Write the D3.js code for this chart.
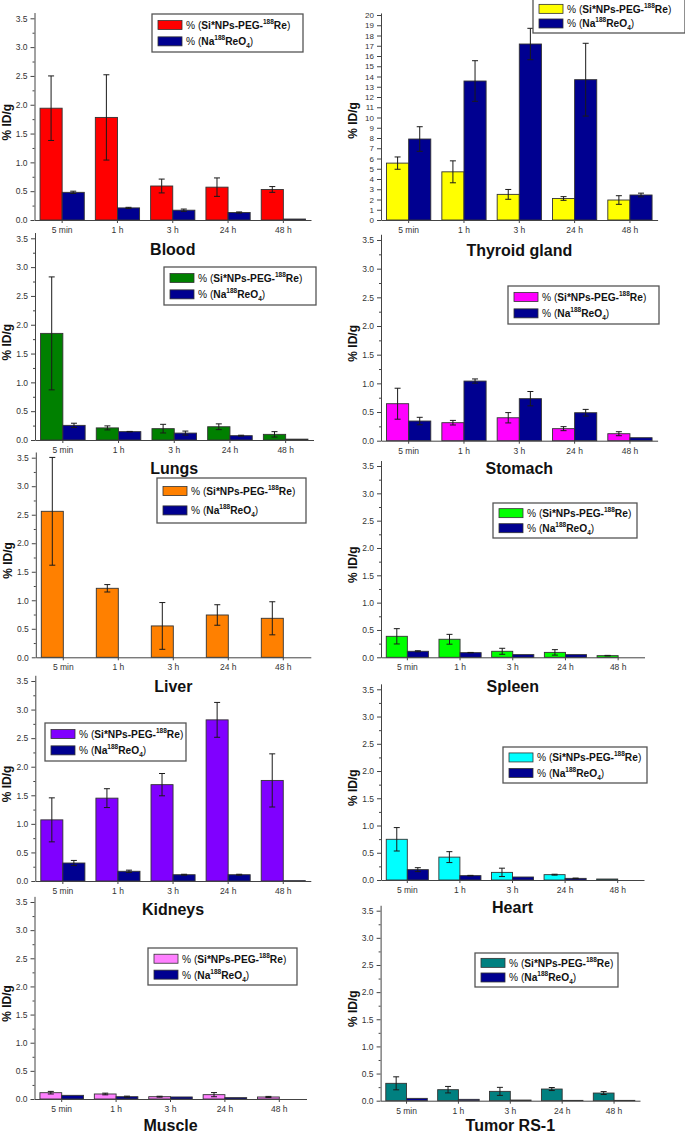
<!DOCTYPE html>
<html>
<head>
<meta charset="utf-8">
<script src="https://cdn.jsdelivr.net/npm/d3@7"></script>
<style>
  html, body { margin: 0; padding: 0; background: #fff; }
  svg { display: block; }
  text { font-family: "Liberation Sans", Arial, sans-serif; }
</style>
</head>
<body>
<svg id="chart" width="685" height="1134"></svg>
<script>
// ---------- DATA ----------
const categories = ["5 min", "1 h", "3 h", "24 h", "48 h"];
const organs = ["Blood", "Thyroid gland", "Lungs", "Stomach", "Liver", "Spleen", "Kidneys", "Heart", "Muscle", "Tumor RS-1"];
const npColors = ["#FF0000", "#FFFF00", "#008000", "#FF00FF", "#FF8000", "#00FF00", "#8000FF", "#00FFFF", "#FF80FF", "#008080"];
const naColor = "#000090";

const bloodNP = [1.94, 1.78, 0.59, 0.57, 0.53];
const bloodNPErr = [0.56, 0.74, 0.12, 0.16, 0.05];
const bloodNa = [0.48, 0.21, 0.17, 0.13, 0.017];
const bloodNaErr = [0.02, 0.01, 0.02, 0.01, 0];

const thyroidNP = [5.55, 4.7, 2.5, 2.1, 1.95];
const thyroidNPErr = [0.6, 1.07, 0.48, 0.18, 0.42];
const thyroidNa = [7.9, 13.56, 17.17, 13.69, 2.44];
const thyroidNaErr = [1.2, 1.98, 1.53, 3.55, 0.18];

const lungsNP = [1.85, 0.21, 0.197, 0.23, 0.098];
const lungsNPErr = [0.98, 0.035, 0.075, 0.05, 0.047];
const lungsNa = [0.254, 0.145, 0.12, 0.075, 0.015];
const lungsNaErr = [0.037, 0.004, 0.035, 0.008, 0];

const stomachNP = [0.645, 0.314, 0.40, 0.21, 0.122];
const stomachNPErr = [0.27, 0.04, 0.09, 0.035, 0.035];
const stomachNa = [0.343, 1.04, 0.733, 0.488, 0.052];
const stomachNaErr = [0.065, 0.037, 0.125, 0.058, 0];

const liverNP = [2.56, 1.21, 0.55, 0.742, 0.684];
const liverNPErr = [0.945, 0.065, 0.41, 0.18, 0.29];
const liverNa = [null, null, null, null, null];
const liverNaErr = [0, 0, 0, 0, 0];

const spleenNP = [0.384, 0.33, 0.11, 0.09, 0.03];
const spleenNPErr = [0.14, 0.09, 0.055, 0.05, 0.005];
const spleenNa = [0.11, 0.085, 0.049, 0.049, null];
const spleenNaErr = [0.01, 0.004, 0, 0, 0];

const kidneysNP = [1.07, 1.45, 1.686, 2.82, 1.76];
const kidneysNPErr = [0.385, 0.165, 0.195, 0.305, 0.465];
const kidneysNa = [0.315, 0.17, 0.11, 0.11, 0.006];
const kidneysNaErr = [0.045, 0.02, 0.008, 0.008, 0];

const heartNP = [0.747, 0.42, 0.14, 0.098, 0.018];
const heartNPErr = [0.215, 0.1, 0.077, 0.008, 0];
const heartNa = [0.19, 0.08, 0.055, 0.03, null];
const heartNaErr = [0.036, 0.005, 0, 0.005, 0];

const muscleNP = [0.112, 0.089, 0.041, 0.077, 0.036];
const muscleNPErr = [0.023, 0.015, 0.008, 0.037, 0.01];
const muscleNa = [0.065, 0.041, 0.036, 0.024, null];
const muscleNaErr = [0, 0.01, 0, 0, 0];

const tumorNP = [0.32, 0.203, 0.172, 0.215, 0.141];
const tumorNPErr = [0.12, 0.06, 0.074, 0.028, 0.027];
const tumorNa = [0.043, 0.025, 0.012, 0.006, 0.006];
const tumorNaErr = [0, 0, 0, 0, 0];

const yTicks35 = [0, 0.5, 1.0, 1.5, 2.0, 2.5, 3.0, 3.5];
const yMinor35 = [0.25, 0.75, 1.25, 1.75, 2.25, 2.75, 3.25];
const yTicks20 = d3.range(0, 21, 1);

const npSeries = [bloodNP, thyroidNP, lungsNP, stomachNP, liverNP, spleenNP, kidneysNP, heartNP, muscleNP, tumorNP];
const npErrSeries = [bloodNPErr, thyroidNPErr, lungsNPErr, stomachNPErr, liverNPErr, spleenNPErr, kidneysNPErr, heartNPErr, muscleNPErr, tumorNPErr];
const naSeries = [bloodNa, thyroidNa, lungsNa, stomachNa, liverNa, spleenNa, kidneysNa, heartNa, muscleNa, tumorNa];
const naErrSeries = [bloodNaErr, thyroidNaErr, lungsNaErr, stomachNaErr, liverNaErr, spleenNaErr, kidneysNaErr, heartNaErr, muscleNaErr, tumorNaErr];

// ---------- LAYOUT ----------
const layout = [
  {x0: 34.5, x1: 311,   yZero: 220,    yTop: 18.3,  max: 3.5, axisTop: 3.6,  legend: [152, 14, 151, 38], titleY: 255},
  {x0: 381,  x1: 657.6, yZero: 220,    yTop: 15,    max: 20,  axisTop: 20.2, legend: [533, -1, 152, 34], titleY: 256},
  {x0: 35,   x1: 313.5, yZero: 440,    yTop: 238.3, max: 3.5, axisTop: 3.6,  legend: [164, 267, 152, 38], titleY: 474},
  {x0: 381,  x1: 657.6, yZero: 440.7,  yTop: 240,   max: 3.5, axisTop: 3.6,  legend: [508, 286, 151, 38], titleY: 474},
  {x0: 35.8, x1: 310.8, yZero: 657.3,  yTop: 457.7, max: 3.5, axisTop: 3.6,  legend: [157, 478, 149, 45], titleY: 692},
  {x0: 381,  x1: 644.5, yZero: 657.3,  yTop: 466,   max: 3.5, axisTop: 3.6,  legend: [493, 503, 144, 35], titleY: 692},
  {x0: 35.3, x1: 310.8, yZero: 881,    yTop: 681,   max: 3.5, axisTop: 3.6,  legend: [45, 723, 141, 38], titleY: 915},
  {x0: 381,  x1: 644,   yZero: 880,    yTop: 689.3, max: 3.5, axisTop: 3.6,  legend: [503, 747, 144, 36], titleY: 913},
  {x0: 34.5, x1: 306.5, yZero: 1099,   yTop: 902,   max: 3.5, axisTop: 3.6,  legend: [148, 948, 149, 37], titleY: 1131},
  {x0: 380.6,x1: 640,   yZero: 1100.7, yTop: 910.7, max: 3.5, axisTop: 3.6,  legend: [475, 953, 143, 34], titleY: 1131}
];

const svg = d3.select("#chart");

layout.forEach((p, i) => {
  const g = svg.append("g");
  const k = (p.yZero - p.yTop) / p.max;
  const y = d3.scaleLinear().domain([0, p.axisTop]).range([p.yZero, p.yZero - k * p.axisTop]);
  const x = d3.scaleBand().domain(categories).range([p.x0, p.x1]).paddingInner(0.2).paddingOuter(0.1);
  const xs = d3.scaleBand().domain(["np", "na"]).range([0, x.bandwidth()]);

  const np = npSeries[i], npE = npErrSeries[i], na = naSeries[i], naE = naErrSeries[i];
  const rows = categories.map((c, j) => ({c, np: np[j], npE: npE[j], na: na[j], naE: naE[j]}));

  // bars
  const barsNP = rows.filter(r => r.np != null);
  const barsNa = rows.filter(r => r.na != null);
  g.selectAll(".bnp").data(barsNP).join("rect")
    .attr("x", r => x(r.c) + xs("np"))
    .attr("width", xs.bandwidth())
    .attr("y", r => y(r.np))
    .attr("height", r => y(0) - y(r.np))
    .attr("fill", npColors[i])
    .attr("stroke", "#333").attr("stroke-width", 0.9);
  g.selectAll(".bna").data(barsNa).join("rect")
    .attr("x", r => x(r.c) + xs("na"))
    .attr("width", xs.bandwidth())
    .attr("y", r => y(r.na))
    .attr("height", r => y(0) - y(r.na))
    .attr("fill", naColor)
    .attr("stroke", "#333").attr("stroke-width", 0.9);

  // error bars
  const errs = [];
  rows.forEach(r => {
    if (r.np != null && r.npE > 0) errs.push({cx: x(r.c) + xs("np") + xs.bandwidth() / 2, v: r.np, e: r.npE});
    if (r.na != null && r.naE > 0) errs.push({cx: x(r.c) + xs("na") + xs.bandwidth() / 2, v: r.na, e: r.naE});
  });
  const eg = g.append("g").attr("stroke", "#1a1a1a").attr("stroke-width", 1).attr("fill", "none");
  errs.forEach(d => {
    const yt = y(d.v + d.e), yb = y(Math.max(0, d.v - d.e));
    eg.append("line").attr("x1", d.cx).attr("x2", d.cx).attr("y1", yt).attr("y2", yb);
    eg.append("line").attr("x1", d.cx - 3).attr("x2", d.cx + 3).attr("y1", yt).attr("y2", yt);
    eg.append("line").attr("x1", d.cx - 3).attr("x2", d.cx + 3).attr("y1", yb).attr("y2", yb);
  });

  // y axis
  const isThy = p.max === 20;
  const yAxis = d3.axisLeft(y)
    .tickValues(isThy ? yTicks20 : yTicks35)
    .tickFormat(isThy ? d3.format("d") : d3.format(".1f"))
    .tickSize(4).tickSizeOuter(0).tickPadding(3);
  const ya = g.append("g").attr("transform", `translate(${p.x0},0)`).call(yAxis);
  ya.select(".domain").attr("stroke", "#444");
  ya.selectAll(".tick line").attr("stroke", "#444");
  ya.selectAll(".tick text").attr("font-size", isThy ? 8 : 8.5).attr("fill", "#333")
    .attr("font-family", "Liberation Sans, Arial, sans-serif");
  if (!isThy) {
    const ym = d3.axisLeft(y).tickValues(yMinor35).tickSize(2).tickFormat("").tickSizeOuter(0);
    const ymg = g.append("g").attr("transform", `translate(${p.x0},0)`).call(ym);
    ymg.select(".domain").remove();
    ymg.selectAll(".tick line").attr("stroke", "#444");
  }

  // x axis
  const xAxis = d3.axisBottom(x).tickSize(3).tickSizeOuter(0).tickPadding(4);
  const xa = g.append("g").attr("transform", `translate(0,${p.yZero})`).call(xAxis);
  xa.select(".domain").attr("stroke", "#444");
  xa.selectAll(".tick line").attr("stroke", "#444");
  xa.selectAll(".tick text").attr("font-size", 8.5).attr("fill", "#333")
    .attr("font-family", "Liberation Sans, Arial, sans-serif");

  // y label
  const ly = (p.yZero + p.yTop) / 2 + 3;
  g.append("text")
    .attr("transform", `translate(${p.x0 - 24},${ly}) rotate(-90)`)
    .attr("text-anchor", "middle")
    .attr("font-size", 12).attr("font-weight", "bold").attr("fill", "#111")
    .text("% ID/g");

  // title
  g.append("text")
    .attr("x", (p.x0 + p.x1) / 2).attr("y", p.titleY)
    .attr("text-anchor", "middle")
    .attr("font-size", 16).attr("font-weight", "bold").attr("fill", "#111")
    .text(organs[i]);

  // legend
  const [lx, lyy, lw, lh] = p.legend;
  const lg = g.append("g");
  lg.append("rect").attr("x", lx).attr("y", lyy).attr("width", lw).attr("height", lh)
    .attr("fill", "#fff").attr("stroke", "#555").attr("stroke-width", 1.3);
  const rowsY = [lyy + lh * 0.29, lyy + lh * 0.72];
  const swW = 24, swH = 9;
  [npColors[i], naColor].forEach((col, j) => {
    lg.append("rect").attr("x", lx + 6).attr("y", rowsY[j] - swH / 2).attr("width", swW).attr("height", swH)
      .attr("fill", col).attr("stroke", "#333").attr("stroke-width", 0.8);
  });
  const fs = 10.2;
  const t1 = lg.append("text").attr("x", lx + 6 + swW + 4).attr("y", rowsY[0] + 4)
    .attr("font-size", fs).attr("fill", "#111");
  t1.append("tspan").text("% (");
  t1.append("tspan").attr("font-weight", "bold").text("Si*NPs-PEG-");
  t1.append("tspan").attr("font-size", 6.5).attr("dy", -5).attr("font-weight", "bold").text("188");
  t1.append("tspan").attr("dy", 5).attr("font-weight", "bold").text("Re");
  t1.append("tspan").text(")");
  const t2 = lg.append("text").attr("x", lx + 6 + swW + 4).attr("y", rowsY[1] + 4)
    .attr("font-size", fs).attr("fill", "#111");
  t2.append("tspan").text("% (");
  t2.append("tspan").attr("font-weight", "bold").text("Na");
  t2.append("tspan").attr("font-size", 6.5).attr("dy", -5).attr("font-weight", "bold").text("188");
  t2.append("tspan").attr("dy", 5).attr("font-weight", "bold").text("ReO");
  t2.append("tspan").attr("font-size", 6.5).attr("dy", 3).attr("font-weight", "bold").text("4");
  t2.append("tspan").attr("dy", -3).text(")");
});
</script>
</body>
</html>
